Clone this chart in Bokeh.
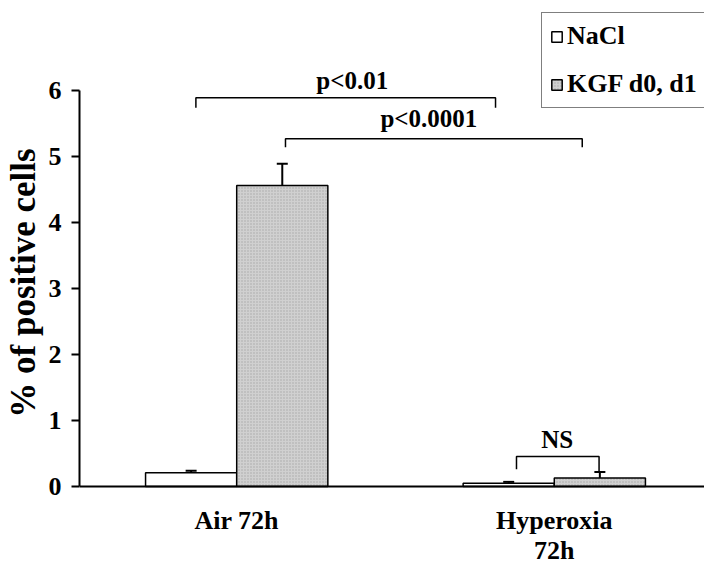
from bokeh.plotting import figure
from bokeh.models import (Range1d, FixedTicker, Whisker, TeeHead, ColumnDataSource,
                          Legend, LegendItem, Span)
from bokeh.core.properties import value
from bokeh.embed import file_html
from bokeh.resources import INLINE

# ---- data ----
groups = ["Air 72h", "Hyperoxia\n72h"]
series = ["NaCl", "KGF d0, d1"]
nacl = [0.21, 0.05]
nacl_err = [0.03, 0.02]
kgf = [4.56, 0.13]
kgf_err = [0.33, 0.09]
y_ticks = [0, 1, 2, 3, 4, 5, 6]
comparisons = ["p<0.01", "p<0.0001", "NS"]

FONT = "Liberation Serif"
BAR_W = 0.287
DODGE = BAR_W / 2

gx = list(range(len(groups)))

p = figure(width=704, height=565, output_backend="svg", toolbar_location=None,
           x_axis_location=None,
           x_range=Range1d(-0.495, 1.473), y_range=Range1d(-1.197, 7.364),
           min_border_left=76, min_border_right=0, min_border_top=0, min_border_bottom=0)
p.outline_line_color = None
p.grid.visible = False
p.background_fill_color = "white"

src_n = ColumnDataSource(dict(x=[g - DODGE for g in gx], top=nacl, up=[v + e for v, e in zip(nacl, nacl_err)]))
src_k = ColumnDataSource(dict(x=[g + DODGE for g in gx], top=kgf, up=[v + e for v, e in zip(kgf, kgf_err)]))

rn = p.vbar(x="x", top="top", width=BAR_W, bottom=0, source=src_n,
            fill_color="white", line_color="black", line_width=1.5)
rk = p.vbar(x="x", top="top", width=BAR_W, bottom=0, source=src_k,
            fill_color="#d0d0d0", line_color="black", line_width=1.5,
            hatch_pattern="dot", hatch_color="#808080", hatch_scale=3, hatch_alpha=0.5)

for src in (src_n, src_k):
    p.add_layout(Whisker(base="x", lower="top", upper="up", source=src, dimension="height",
                         lower_head=None,
                         upper_head=TeeHead(size=11, line_width=2, line_color="black"),
                         line_width=2, line_color="black"))

# x axis baseline at y = 0
p.add_layout(Span(location=0, dimension="width", line_color="black", line_width=2))

# group names under the baseline
p.text(x=gx, y=[-0.288] * len(gx), text=groups,
       text_font=value(FONT), text_font_style="bold", text_font_size="26px",
       text_align="center", text_baseline="top", text_line_height=1.04,
       text_color="black")

# ---- significance brackets ----
br_x0 = [-0.1285, 0.1536, 0.881]
br_x1 = [0.815, 1.088, 1.141]
br_y = [5.89, 5.27, 0.455]
br_y0 = [5.74, 5.14, 0.26]
br_y1 = [5.74, 5.14, kgf[1] + kgf_err[1]]
xs = [[a, a, b, b] for a, b in zip(br_x0, br_x1)]
ys = [[l, t, t, r] for l, t, r in zip(br_y0, br_y, br_y1)]
p.multi_line(xs=xs, ys=ys, line_color="black", line_width=1.5)
p.text(x=[0.364, 0.605, 1.009], y=[6.15, 5.576, 0.712], text=comparisons,
       text_font=value(FONT), text_font_style="bold", text_font_size="25px",
       text_align="center", text_baseline="alphabetic", text_color="black")

# ---- y axis ----
ya = p.yaxis[0]
ya.ticker = FixedTicker(ticks=y_ticks)
ya.bounds = (0, 6)
ya.axis_line_width = 2
ya.major_tick_line_width = 2
ya.major_tick_out = 8
ya.major_tick_in = 0
ya.minor_tick_line_color = None
ya.major_label_standoff = 10
ya.major_label_text_font = FONT
ya.major_label_text_font_style = "bold"
ya.major_label_text_font_size = "26px"
ya.major_label_text_color = "black"
ya.axis_label = "% of positive cells"
ya.axis_label_text_font = FONT
ya.axis_label_text_font_style = "bold"
ya.axis_label_text_font_size = "35px"
ya.axis_label_text_color = "black"
ya.axis_label_standoff = 3

# ---- legend ----
legend = Legend(items=[LegendItem(label=series[0], renderers=[rn]),
                       LegendItem(label=series[1], renderers=[rk])],
                location=(462, 457), orientation="vertical",
                border_line_color="black", border_line_width=1.5,
                background_fill_color="white", background_fill_alpha=1,
                padding=8, spacing=18, margin=0,
                glyph_width=13, glyph_height=13, label_standoff=4,
                label_height=30,
                label_text_font=FONT, label_text_font_style="bold",
                label_text_font_size="26px", label_text_color="black")
p.add_layout(legend, "center")

open("out.html", "w").write(file_html(p, INLINE))
